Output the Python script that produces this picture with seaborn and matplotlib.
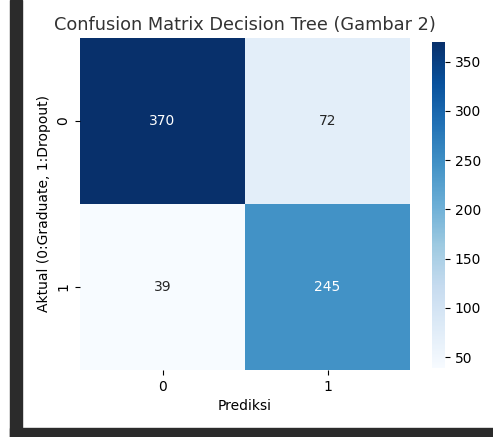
import numpy as np
import matplotlib
matplotlib.use('Agg')
import matplotlib.pyplot as plt
from matplotlib.patches import Rectangle
import seaborn as sns

# confusion matrix values (rows: actual, cols: predicted)
labels = ["0", "1"]
row0 = [370, 72]
row1 = [39, 245]
cm = np.array([row0, row1])

fig = plt.figure(figsize=(4.93, 4.37), dpi=100)
ax = fig.add_axes([80/493, 1 - 370/437, 330/493, 332/437])
cax = fig.add_axes([432/493, 1 - 368/437, 13/493, 326/437])

sns.heatmap(cm, annot=True, fmt="d", cmap="Blues", ax=ax, cbar_ax=cax,
            xticklabels=labels, yticklabels=labels)
ax.set_title("Confusion Matrix Decision Tree (Gambar 2)", fontsize=12.8, color="#333333")
ax.set_xlabel("Prediksi")
ax.set_ylabel("Aktual (0:Graduate, 1:Dropout)")

# dark screenshot frame on the left and bottom
fig.patches.append(Rectangle((10/493, 0), 12/493, 1, transform=fig.transFigure,
                             color="#2b2b2b", zorder=-1))
fig.patches.append(Rectangle((10/493, 0), 1 - 10/493, 9/437, transform=fig.transFigure,
                             color="#2b2b2b", zorder=-1))

fig.savefig("out.png", dpi=100)
